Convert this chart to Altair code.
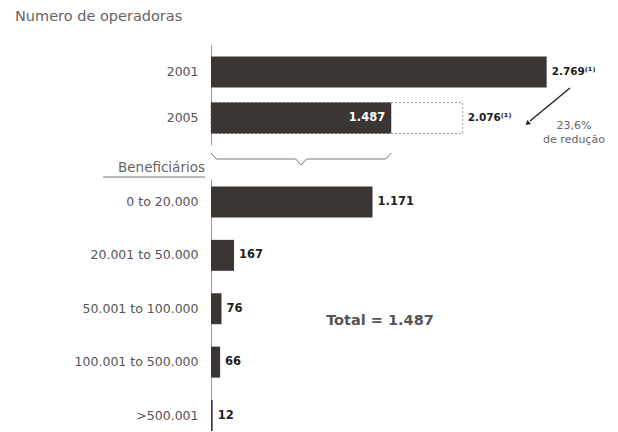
import altair as alt
import pandas as pd

# ---------------- data ----------------
years = ["2001", "2005"]
operators = [2769, 1487]
reference_2005 = 2076
reduction_text = "23,6%"
ranges = ["0 to 20.000", "20.001 to 50.000", "50.001 to 100.000",
          "100.001 to 500.000", ">500.001"]
counts = [1171, 167, 76, 66, 12]
total = 1487


def br(v):
    return f"{v:,}".replace(",", ".")


DARK = "#3b3533"
GRAY = "#555555"
FONT = "DejaVu Sans"

top_df = pd.DataFrame({
    "year": years,
    "n": operators,
    "label": [br(operators[0]) + "⁽¹⁾", br(operators[1])],
})
ghost_df = pd.DataFrame({
    "year": ["2005"], "start": [0], "end": [reference_2005],
    "label": [br(reference_2005) + "⁽¹⁾"],
    "title": ["Numero de operadoras"],
    "red": [reduction_text + "\nde redução"],
    "b0": [0], "b1": [operators[1]],
})

xs_top = alt.Scale(domain=[0, 3300], nice=False)
ys_top = alt.Scale(domain=years, paddingInner=0.33, paddingOuter=0.25)
axis_common = dict(ticks=False, labelPadding=13, minExtent=200, maxExtent=200,
                   domainColor="#9a9a9a", labelFontSize=12.5, labelColor=GRAY,
                   labelFont=FONT, title=None)
ytop = alt.Y("year:N", scale=ys_top, sort=years, title=None,
             axis=alt.Axis(**axis_common))

ghost = alt.Chart(ghost_df).mark_bar(
    fill="white", stroke="#8a8a8a", strokeDash=[2, 2], strokeWidth=0.9
).encode(x=alt.X("start:Q", scale=xs_top, axis=None), x2="end:Q", y=ytop)

bars_top = alt.Chart(top_df).mark_bar(color=DARK).encode(
    x=alt.X("n:Q", scale=xs_top, axis=None), y=ytop)

lab2001 = alt.Chart(top_df).transform_filter(alt.datum.year == "2001").mark_text(
    align="left", dx=5, font=FONT, fontSize=10.5, fontWeight="bold", color="#222"
).encode(x=alt.X("n:Q", scale=xs_top), y=ytop, text="label:N")

lab2005 = alt.Chart(top_df).transform_filter(alt.datum.year == "2005").mark_text(
    align="right", dx=-6, font=FONT, fontSize=11.5, fontWeight="bold", color="white"
).encode(x=alt.X("n:Q", scale=xs_top), y=ytop, text="label:N")

ghost_lab = alt.Chart(ghost_df).mark_text(
    align="left", dx=5, font=FONT, fontSize=10.5, fontWeight="bold", color="#222"
).encode(x=alt.X("end:Q", scale=xs_top), y=ytop, text="label:N")

arrow = alt.Chart(ghost_df).mark_rule(color="#222", strokeWidth=1.4).encode(
    x=alt.value(359), y=alt.value(43), x2=alt.value(319), y2=alt.value(76))
arrow_head = alt.Chart(ghost_df).mark_point(
    shape="triangle", angle=230, filled=True, color="#222", size=30, opacity=1
).encode(x=alt.value(317), y=alt.value(78))

red_txt = alt.Chart(ghost_df).mark_text(
    align="center", baseline="middle", lineBreak="\n", font=FONT, fontSize=11,
    color="#666", lineHeight=14
).encode(x=alt.value(363), y=alt.value(81), text="red:N")

title_txt = alt.Chart(ghost_df).mark_text(
    align="left", baseline="middle", font=FONT, fontSize=14.5, color="#666"
).encode(x=alt.value(-196), y=alt.value(-28), text="title:N")

# curly brace under the 2005 bar, spanning 0..1487
brace_layers = []
segs = [
    (0.0, 0.03, 108, 114),
    (0.03, 0.47, 114, 114),
    (0.47, 0.5, 114, 120),
    (0.5, 0.53, 120, 114),
    (0.53, 0.97, 114, 114),
    (0.97, 1.0, 114, 108),
]
for a, b, ya, yb in segs:
    brace_layers.append(
        alt.Chart(ghost_df).transform_calculate(
            xa=f"datum.b1*{a}", xb=f"datum.b1*{b}"
        ).mark_rule(color="#777", strokeWidth=1).encode(
            x=alt.X("xa:Q", scale=xs_top), x2="xb:Q",
            y=alt.value(ya), y2=alt.value(yb))
    )

top = alt.layer(ghost, bars_top, lab2001, lab2005, ghost_lab, arrow, arrow_head,
                red_txt, title_txt, *brace_layers).properties(width=400, height=100)

# ---------------- bottom panel ----------------
bot_df = pd.DataFrame({"range": ranges, "n": counts,
                       "label": [br(c) for c in counts]})
info_df = pd.DataFrame({"head": ["Beneficiários"], "total": [f"Total = {br(total)}"]})

xs_bot = alt.Scale(domain=[0, 2900], nice=False)
ys_bot = alt.Scale(domain=ranges, paddingInner=0.42, paddingOuter=0.07, align=1)
ybot = alt.Y("range:N", scale=ys_bot, sort=ranges, title=None,
             axis=alt.Axis(**axis_common))

bars_bot = alt.Chart(bot_df).mark_bar(color=DARK).encode(
    x=alt.X("n:Q", scale=xs_bot, axis=None), y=ybot)
labs_bot = alt.Chart(bot_df).mark_text(
    align="left", dx=5, font=FONT, fontSize=11.5, fontWeight="bold", color="#222"
).encode(x=alt.X("n:Q", scale=xs_bot), y=ybot, text="label:N")

head = alt.Chart(info_df).mark_text(
    align="right", baseline="middle", font=FONT, fontSize=13.5, color="#666"
).encode(x=alt.value(-6), y=alt.value(-11), text="head:N")
underline = alt.Chart(info_df).mark_rule(color="#777", strokeWidth=1).encode(
    x=alt.value(-108), x2=alt.value(-6), y=alt.value(-2))
total_txt = alt.Chart(info_df).mark_text(
    align="center", baseline="middle", font=FONT, fontSize=14.5,
    fontWeight="bold", color="#555"
).encode(x=alt.value(169), y=alt.value(142), text="total:N")

bottom = alt.layer(bars_bot, labs_bot, head, underline, total_txt).properties(
    width=400, height=252)

chart = alt.vconcat(top, bottom, spacing=-5).properties(
    padding={"left": 11, "top": 9, "right": 0, "bottom": 0},
    background="white",
).configure_view(strokeWidth=0, stroke="transparent")

chart.save("out.html", embed_options={"renderer": "svg", "actions": False})
